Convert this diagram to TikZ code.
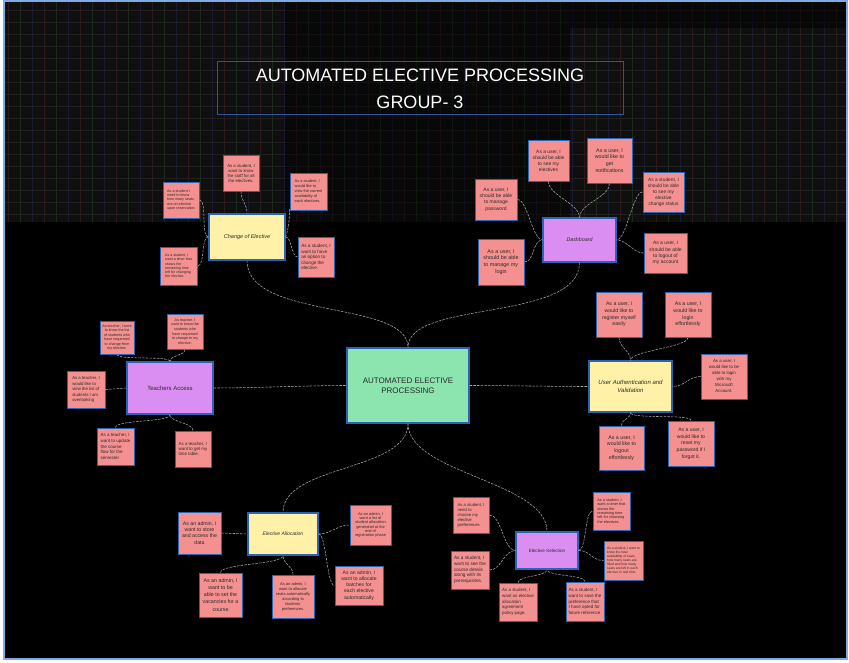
\documentclass[tikz,border=0pt]{standalone}
\usepackage{fontspec}
\setmainfont{Liberation Sans}
\usetikzlibrary{calc}
\definecolor{notepink}{HTML}{F4908F}
\definecolor{nb}{HTML}{2A64B4}
\definecolor{hy}{HTML}{FFF2A8}
\definecolor{hp}{HTML}{DA8EF2}
\definecolor{hg}{HTML}{8CE4AE}
\definecolor{txt}{HTML}{2B2B2B}
\definecolor{cn}{HTML}{A8A8A8}
\definecolor{framec}{HTML}{7FAAE6}
\definecolor{tb}{HTML}{2A5598}
\definecolor{gr}{HTML}{2E1818}
\definecolor{gg}{HTML}{182C18}
\definecolor{gb}{HTML}{181834}
\definecolor{gh}{HTML}{202020}
\definecolor{bgtop}{HTML}{0F0F0F}
\newcommand\fsz[2]{\fontsize{#1}{#2}\selectfont}
\begin{document}
\begin{tikzpicture}[x=1pt,y=-1pt,
  note/.style={draw=nb, line width=0.9pt, fill=notepink, inner sep=1pt, text=txt},
  hub/.style={draw=nb, line width=1.1pt, inner sep=1pt, text=txt, align=center},
  conn/.style={draw=cn, line width=0.55pt, dash pattern=on 2.5pt off 1.2pt},
]
\useasboundingbox (0,0) rectangle (849,663);
% background
\fill[white] (0,0) rectangle (849,663);
\fill[black] (4,1) rectangle (847,659);
\fill[bgtop] (4,1) rectangle (847,222);
\begin{scope}
  \clip (4,1) rectangle (847,222);
  \foreach \x in {8,44,...,847} \draw[gr, line width=0.7pt] (\x,1) -- (\x,222);
  \foreach \x in {20,56,...,847} \draw[gg, line width=0.7pt] (\x,1) -- (\x,222);
  \foreach \x in {32,68,...,847} \draw[gb, line width=0.7pt] (\x,1) -- (\x,222);
  \foreach \y in {10,22,...,222} \draw[gh, line width=0.6pt] (4,\y) -- (847,\y);
  \fill[black, opacity=0.45] (285,1) rectangle (570,222);
  \fill[black, opacity=0.5] (570,1) rectangle (847,28);
\end{scope}
\draw[framec, line width=1.2pt] (4,1) rectangle (847,659);

% title
\node[draw=tb, line width=1pt, minimum width=406, minimum height=53, text=white, align=center, font={\fsz{18}{27}}] (title) at (420,88.5) {AUTOMATED ELECTIVE PROCESSING\\GROUP- 3};

% center
\node[hub, fill=hg, minimum width=122, minimum height=75, font={\fsz{8}{10.5}}] (center) at (408,385.5) {AUTOMATED ELECTIVE\\PROCESSING};

% hubs
\node[hub, fill=hy, minimum width=76, minimum height=46, font={\fsz{5.5}{6.5}\itshape}] (coe) at (247,237) {Change of Elective};
\node[hub, fill=hp, minimum width=73, minimum height=44, font={\fsz{5.3}{6.5}\itshape}] (dash) at (579.5,240) {Dashboard};
\node[hub, fill=hp, minimum width=86, minimum height=52, font={\fsz{6}{7}}] (ta) at (170,388) {Teachers Access};
\node[hub, fill=hy, minimum width=83, minimum height=51, font={\fsz{6}{7.7}\itshape}] (ua) at (630.5,386.5) {User Authentication and\\Validation};
\node[hub, fill=hy, minimum width=70, minimum height=42, font={\fsz{5}{6}\itshape}] (ea) at (283,534) {Elective Allocation};
\node[hub, fill=hp, minimum width=62, minimum height=37, font={\fsz{4.6}{5.5}}] (es) at (547,550.5) {Elective Selection};

% Change of Elective notes
\node[note, minimum width=36, minimum height=36, align=center, font={\fsz{4.3}{5}}] (coe1) at (241,173) {As a student, I\\want to know\\the staff for all\\the electives.};
\node[note, minimum width=36, minimum height=36, align=left, font={\fsz{3.7}{4.4}}] (coe2) at (181,200) {As a student I\\need to know\\how many seats\\are on elective\\upon reservation};
\node[note, minimum width=37, minimum height=37, align=left, font={\fsz{3.9}{5}}] (coe3) at (308.5,191.5) {As a student, I\\would like to\\view the current\\availability of\\each electives.};
\node[note, minimum width=36, minimum height=40, align=left, font={\fsz{4.6}{5.6}}] (coe4) at (316,257) {As a student, I\\want to have\\an option to\\change the\\elective.};
\node[note, minimum width=37, minimum height=38, align=left, font={\fsz{3.6}{4.2}}] (coe5) at (178.5,266) {As a student, I\\want a timer that\\shows the\\remaining time\\left for changing\\the elective.};

% Dashboard notes
\node[note, minimum width=41, minimum height=41, align=center, font={\fsz{4.9}{6}}] (d1) at (548.5,160.5) {As a user, I\\should be able\\to see my\\electives};
\node[note, minimum width=45, minimum height=45, align=center, font={\fsz{5.3}{6.7}}] (d2) at (609.5,160.5) {As a user, I\\would like to\\get\\notifications};
\node[note, minimum width=41, minimum height=40, align=center, font={\fsz{4.8}{6}}] (d3) at (663.5,192) {As a student, I\\should be able\\to see my\\elective\\change status};
\node[note, minimum width=42, minimum height=41, align=center, font={\fsz{5}{6.3}}] (d4) at (496,199.5) {As a user, I\\should be able\\to manage\\password};
\node[note, minimum width=46, minimum height=46, align=center, font={\fsz{5.4}{6.7}}] (d5) at (501,262) {As a user, I\\should be able\\to manage my\\login};
\node[note, minimum width=43, minimum height=40, align=center, font={\fsz{5}{6.2}}] (d6) at (665.5,253) {As a user, I\\should be able\\to logout of\\my account};

% Teachers notes
\node[note, minimum width=34, minimum height=33, align=center, font={\fsz{3.7}{4.5}}] (t1) at (117,337.5) {As teacher, I want\\to know the list\\of students who\\have requested\\to change from\\my elective.};
\node[note, minimum width=36, minimum height=35, align=center, font={\fsz{3.7}{4.7}}] (t2) at (185,331.5) {As teacher, I\\want to know the\\students who\\have requested\\to change to my\\elective.};
\node[note, minimum width=38, minimum height=37, align=left, font={\fsz{4.3}{5.4}}] (t3) at (86,389.5) {As a teacher, I\\would like to\\view the list of\\students I am\\overlooking};
\node[note, minimum width=37, minimum height=37, align=left, font={\fsz{4.5}{5.6}}] (t4) at (115.5,446.5) {As a teacher, I\\want to update\\the course\\flow for the\\semester};
\node[note, minimum width=36, minimum height=36, align=left, font={\fsz{4.4}{5.4}}] (t5) at (193,449) {As a teacher, I\\want to get my\\time table.};

% User auth notes
\node[note, minimum width=46, minimum height=45, align=center, font={\fsz{5.2}{6.8}}] (u1) at (619,314.5) {As a user, I\\would like to\\register myself\\easily};
\node[note, minimum width=46, minimum height=45, align=center, font={\fsz{5.3}{6.8}}] (u2) at (688,314.5) {As a user, I\\would like to\\login\\effortlessly};
\node[note, minimum width=46, minimum height=45, align=center, font={\fsz{4.4}{6}}] (u3) at (724,376.5) {As a user, I\\would like to be\\able to login\\with my\\Microsoft\\Account.};
\node[note, minimum width=45, minimum height=44, align=center, font={\fsz{5.3}{6.8}}] (u4) at (621.5,448) {As a user, I\\would like to\\logout\\effortlessly};
\node[note, minimum width=46, minimum height=45, align=center, font={\fsz{5.1}{6.7}}] (u5) at (691,443.5) {As a user, I\\would like to\\reset my\\password if I\\forgot it.};

% Elective allocation notes
\node[note, minimum width=43, minimum height=42, align=center, font={\fsz{5.2}{6.2}}] (a1) at (199.5,533) {As an admin, I\\want to store\\and access the\\data};
\node[note, minimum width=41, minimum height=40, align=center, font={\fsz{3.9}{4.3}}] (a2) at (370.5,525) {As an admin, I\\want a list of\\student allocation\\generated at the\\end of\\registration phase};
\node[note, minimum width=48, minimum height=39, align=center, font={\fsz{5.1}{6.1}}] (a3) at (359,585.5) {As an admin, I\\want to allocate\\batches for\\each elective\\automatically};
\node[note, minimum width=43, minimum height=44, align=center, font={\fsz{5.3}{7.1}}] (a4) at (220.5,595) {As an admin, I\\want to be\\able to set the\\vacancies for a\\course};
\node[note, minimum width=42, minimum height=43, align=center, font={\fsz{4}{5}}] (a5) at (293,596.5) {As an admin, I\\want to allocate\\seats automatically\\according to\\students'\\preferences.};

% Elective selection notes
\node[note, minimum width=36, minimum height=36, align=left, font={\fsz{4.2}{5}}] (s1) at (471,515) {As a student, I\\need to\\choose my\\elective\\preferences};
\node[note, minimum width=38, minimum height=38, align=left, font={\fsz{4.7}{5.7}}] (s2) at (470,570) {As a student, I\\want to see the\\course details\\along with its\\prerequisites.};
\node[note, minimum width=38, minimum height=38, align=left, font={\fsz{4.4}{5.7}}] (s3) at (518,602) {As a student, I\\want an elective\\allocation\\agreement\\policy page.};
\node[note, minimum width=38, minimum height=39, align=left, font={\fsz{4.5}{5.7}}] (s4) at (585,601.5) {As a student, I\\want to save the\\preference that\\I have opted for\\future reference};
\node[note, minimum width=37, minimum height=38, align=left, font={\fsz{3.8}{4.3}}] (s5) at (611.5,511) {As a student, I\\want a timer that\\shows the\\remaining time\\left for choosing\\the electives.};
\node[note, minimum width=39, minimum height=39, align=left, font={\fsz{3.3}{3.9}}] (s6) at (623.5,560.5) {As a student, I want to\\know the total\\availability of seats,\\how many seats are\\filled and how many\\seats are left in each\\elective in real time.};

% main connectors
\draw[conn] (coe.south) .. controls +(0,60) and +(0,-48) .. (center.north);
\draw[conn] (dash.south) .. controls +(0,60) and +(0,-48) .. (center.north);
\draw[conn] (center.south) .. controls +(0,48) and +(0,-48) .. (ea.north);
\draw[conn] (center.south) .. controls +(0,50) and +(0,-50) .. (es.north);
\draw[conn] (ta.east) .. controls +(40,0) and +(-40,0) .. (center.west);
\draw[conn] (center.east) .. controls +(40,0) and +(-40,0) .. (ua.west);

% change of elective
\draw[conn] (coe1.south) .. controls +(0,10) and +(0,-10) .. (coe.north);
\draw[conn] (coe2.east) .. controls +(8,0) and +(-8,0) .. (coe.west);
\draw[conn] (coe.west) .. controls +(-8,0) and +(8,0) .. (coe5.east);
\draw[conn] (coe.east) .. controls +(4,-10) and +(0,4) .. ($(coe3.south west)+(0,-2)$);
\draw[conn] (coe.east) .. controls +(6,0) and +(-6,0) .. (coe4.west);

% dashboard
\draw[conn] (d1.south) .. controls +(0,14) and +(0,-14) .. (dash.north);
\draw[conn] (d2.south) .. controls +(0,14) and +(0,-14) .. (dash.north);
\draw[conn] (d3.west) .. controls +(-10,0) and +(10,0) .. (dash.east);
\draw[conn] (d6.west) .. controls +(-10,0) and +(10,0) .. (dash.east);
\draw[conn] (d4.east) .. controls +(10,0) and +(-10,0) .. (dash.west);
\draw[conn] (d5.east) .. controls +(10,0) and +(-10,0) .. (dash.west);

% teachers
\draw[conn] (t1.south) .. controls +(0,6) and +(0,-6) .. (ta.north);
\draw[conn] (t2.south) .. controls +(0,6) and +(0,-6) .. (ta.north);
\draw[conn] (t3.east) -- (ta.west);
\draw[conn] (t4.north) .. controls +(0,-8) and +(0,8) .. (ta.south);
\draw[conn] (t5.north) .. controls +(0,-8) and +(0,8) .. (ta.south);

% user auth
\draw[conn] (u1.south) .. controls +(0,10) and +(0,-10) .. (ua.north);
\draw[conn] (u2.south) .. controls +(0,10) and +(0,-10) .. (ua.north);
\draw[conn] (u3.west) .. controls +(-12,0) and +(12,0) .. (ua.east);
\draw[conn] (u4.north) .. controls +(0,-7) and +(0,7) .. (ua.south);
\draw[conn] (u5.north) .. controls +(0,-7) and +(0,7) .. (ua.south);

% elective allocation
\draw[conn] (a1.east) -- (ea.west);
\draw[conn] (ea.east) .. controls +(12,0) and +(-12,0) .. (a2.west);
\draw[conn] (ea.east) .. controls +(8,0) and +(-8,0) .. (a3.west);
\draw[conn] (a4.north) .. controls +(0,-9) and +(0,9) .. (ea.south);
\draw[conn] (a5.north) .. controls +(0,-9) and +(0,9) .. (ea.south);

% elective selection
\draw[conn] (s1.east) .. controls +(12,0) and +(-12,0) .. (es.west);
\draw[conn] (s2.east) .. controls +(12,0) and +(-12,0) .. (es.west);
\draw[conn] (es.east) .. controls +(8,0) and +(-8,0) .. (s5.west);
\draw[conn] (es.east) .. controls +(12,0) and +(-12,0) .. (s6.west);
\draw[conn] (s3.north) .. controls +(0,-7) and +(0,7) .. (es.south);
\draw[conn] (s4.north) .. controls +(0,-7) and +(0,7) .. (es.south);
\end{tikzpicture}
\end{document}
